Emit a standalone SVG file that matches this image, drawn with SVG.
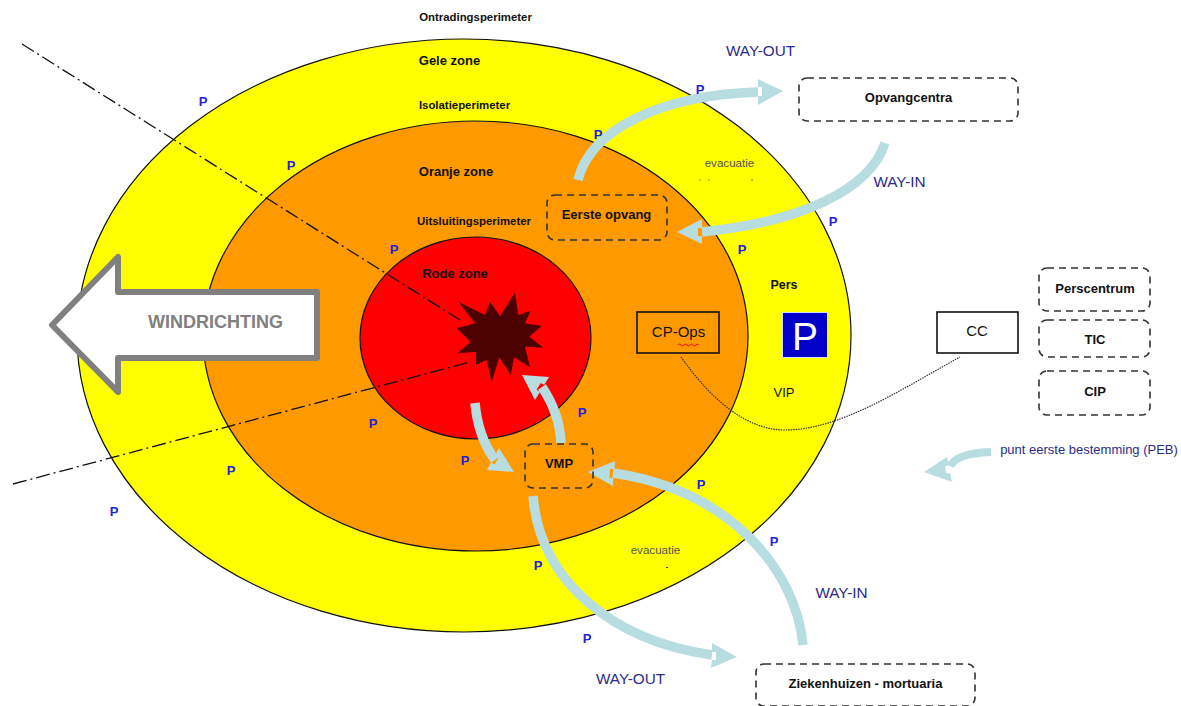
<svg xmlns="http://www.w3.org/2000/svg" width="1181" height="706" viewBox="0 0 1181 706">
<defs><style>
text{font-family:"Liberation Sans",Arial,sans-serif;fill:#111}
.b{font-weight:bold}
.p{font-weight:bold;font-size:13px;fill:#2222dd;text-anchor:middle}
.w{font-size:15.300px;fill:#2b2b8c;text-anchor:middle}
.box{fill:none;stroke:#333;stroke-width:1.6;stroke-dasharray:7 5}
.solid{stroke:#111;stroke-width:1.6}
.zone{stroke:#111;stroke-width:1.2}
.arc{fill:none;stroke:#b7dde1;stroke-width:9.500}
.head{fill:#b7dde1}
.t13{font-size:13px;font-weight:bold;text-anchor:middle}
.t11{font-size:11.400px;font-weight:bold;text-anchor:middle}
.ev{font-size:11.600px;text-anchor:middle;fill:#555}
</style></defs>
<rect width="1181" height="706" fill="#fff"/>
<g id="zones">
<ellipse id="geel" class="zone" cx="464" cy="335.5" rx="387" ry="296.5" fill="#ffff00"/>
<ellipse id="oranje" class="zone" cx="475.5" cy="336" rx="272.5" ry="215" fill="#ff9900"/>
<ellipse id="rood" class="zone" cx="475.5" cy="338" rx="115.5" ry="101" fill="#ff0000"/>
</g>
<polygon id="explosie" fill="#4d0000" points="515,292.7 518.3,315 530.7,310.7 525,323.3 541.7,326 529.3,336.7 543.3,347.7 525,346.7 530,367.3 514,357.3 510.7,375 499.3,357.3 491.7,381.7 486.7,360 476,365 476,351.7 457.3,353.3 470.7,341.7 456.7,328.3 475,323.3 458.3,301.7 485,315 490,301.7 500,316"/>
<g id="connectors">
<path d="M22 44L460 320M13 484L470 362" fill="none" stroke="#111" stroke-width="1.3" stroke-dasharray="14 4 2 4"/>
<path d="M681 357C715 405 750 430 785 430C840 430 900 390 960 357" fill="none" stroke="#333" stroke-width="1.2" stroke-dasharray="1.5 1"/>
<path class="arc" d="M578 180C590 130 660 95 758 92"/>
<polygon class="head" points="758,79 783,91 758,105 758,96 762,96 762,87 758,87"/>
<path class="arc" d="M885 143C870 190 800 222 702 232"/>
<polygon class="head" points="702,219 677,232 702,244 702,236 698,236 698,228 702,228"/>
<path class="arc" d="M561 443C560 420 552 402 542 387"/>
<polygon class="head" points="522,375 549,377 544.100,385.100 540.700,383 536.600,389.800 539.900,391.900 535,400"/>
<path class="arc" d="M475 403C477 425 484 445 495 460"/>
<polygon class="head" points="499,448 514,472 487,470 491,462.500 494.500,464.400 498.500,457.400 495,455.500"/>
<path class="arc" d="M803 645C796 570 730 490 613 473"/>
<polygon class="head" points="615,461 588,472 613,486 613.300,478 609.500,478 610,469 614.500,469"/>
<path class="arc" d="M533 496C540 580 610 640 712 655"/>
<polygon class="head" points="712,643 737,657 711,668 712,660 716,660 716,652 712,652"/>
<path d="M991 452C965 453 955 458 950 466" fill="none" stroke="#b7dde1" stroke-width="8"/>
<polygon class="head" points="924,472 947,457 948.700,465.500 945,466 946,473 950.300,473.500 952,482"/>
</g>
<g id="windrichting">
<polygon points="52,325 118,257 118,292 317,292 317,358 118,358 118,392" fill="#fff" stroke="#808080" stroke-width="6" stroke-linejoin="round"/>
<text x="215.500" y="328" class="b" font-size="18" text-anchor="middle" style="fill:#808080">WINDRICHTING</text>
</g>
<g id="labels">
<text x="475.500" y="21" class="t11">Ontradingsperimeter</text>
<text x="449.500" y="65" class="t13">Gele zone</text>
<text x="464.500" y="109" class="t11">Isolatieperimeter</text>
<text x="456" y="176" class="t13">Oranje zone</text>
<text x="474" y="225" class="t11">Uitsluitingsperimeter</text>
<text x="455" y="278" class="t13">Rode zone</text>
<text x="784" y="289" font-size="12.500" class="b" text-anchor="middle">Pers</text>
<text x="784" y="397" font-size="13" text-anchor="middle">VIP</text>
<text x="729.500" y="167" class="ev">evacuatie</text>
<text x="655.500" y="554" class="ev">evacuatie</text>
<text x="760.500" y="56" class="w">WAY-OUT</text>
<text x="899.500" y="187" class="w">WAY-IN</text>
<text x="841.500" y="598" class="w">WAY-IN</text>
<text x="630.500" y="684" class="w">WAY-OUT</text>
<text x="1089" y="454" font-size="13" text-anchor="middle" style="fill:#2b2b8c">punt eerste bestemming (PEB)</text>
<circle cx="700" cy="180" r=".6" fill="#333"/><circle cx="709" cy="180" r=".6" fill="#333"/><circle cx="752" cy="180" r=".7" fill="#333"/><rect x="666" y="567" width="2" height="1" fill="#333"/>
</g>
<g id="parking">
<text class="p" x="203" y="106">P</text><text class="p" x="291" y="170">P</text><text class="p" x="394" y="254">P</text><text class="p" x="598" y="139">P</text><text class="p" x="700" y="94">P</text><text class="p" x="833" y="226">P</text><text class="p" x="742" y="254">P</text><text class="p" x="582" y="417">P</text><text class="p" x="373" y="428">P</text><text class="p" x="465" y="465">P</text><text class="p" x="231" y="475">P</text><text class="p" x="114" y="516">P</text><text class="p" x="701" y="489">P</text><text class="p" x="774" y="546">P</text><text class="p" x="538" y="570">P</text><text class="p" x="587" y="643">P</text>
</g>
<g id="parkeerbord">
<rect x="782.500" y="312.500" width="45" height="45" fill="#0000c8" stroke="#d8d8ff" stroke-width="1"/>
<text x="792" y="350" font-size="39" text-anchor="start" style="fill:#fff">P</text>
</g>
<g id="opvangcentra"><rect class="box" x="799" y="78" width="219" height="43" rx="8"/><text x="908.500" y="102" class="t13">Opvangcentra</text></g>
<g id="eerste-opvang"><rect class="box" x="547" y="195" width="120" height="45" rx="8"/><text x="606.500" y="219" class="t13">Eerste opvang</text></g>
<g id="vmp"><rect class="box" x="525" y="444" width="68" height="44" rx="8"/><text x="559" y="468" class="t13">VMP</text></g>
<g id="ziekenhuizen"><rect class="box" x="756" y="664" width="219" height="42" rx="8"/><text x="865.500" y="688" class="t13">Ziekenhuizen - mortuaria</text></g>
<g id="perscentrum"><rect class="box" x="1039" y="268" width="111" height="43" rx="8"/><text x="1095" y="293" class="t13">Perscentrum</text></g>
<g id="tic"><rect class="box" x="1039" y="320" width="111" height="37" rx="8"/><text x="1095" y="344" class="t13">TIC</text></g>
<g id="cip"><rect class="box" x="1039" y="371" width="111" height="44" rx="8"/><text x="1095" y="396" class="t13">CIP</text></g>
<g id="cp-ops"><rect class="solid" x="637" y="312" width="82" height="41" fill="none"/><text x="678.500" y="337" font-size="15" text-anchor="middle">CP-Ops</text><path d="M678 345q1.500-2 3 0t3 0t3 0t3 0t3 0t3 0t3 0" fill="none" stroke="#e01010" stroke-width="1"/></g>
<g id="cc"><rect class="solid" x="937" y="312" width="81" height="41" fill="#fff"/><text x="977" y="336" font-size="15" text-anchor="middle">CC</text></g>
</svg>
